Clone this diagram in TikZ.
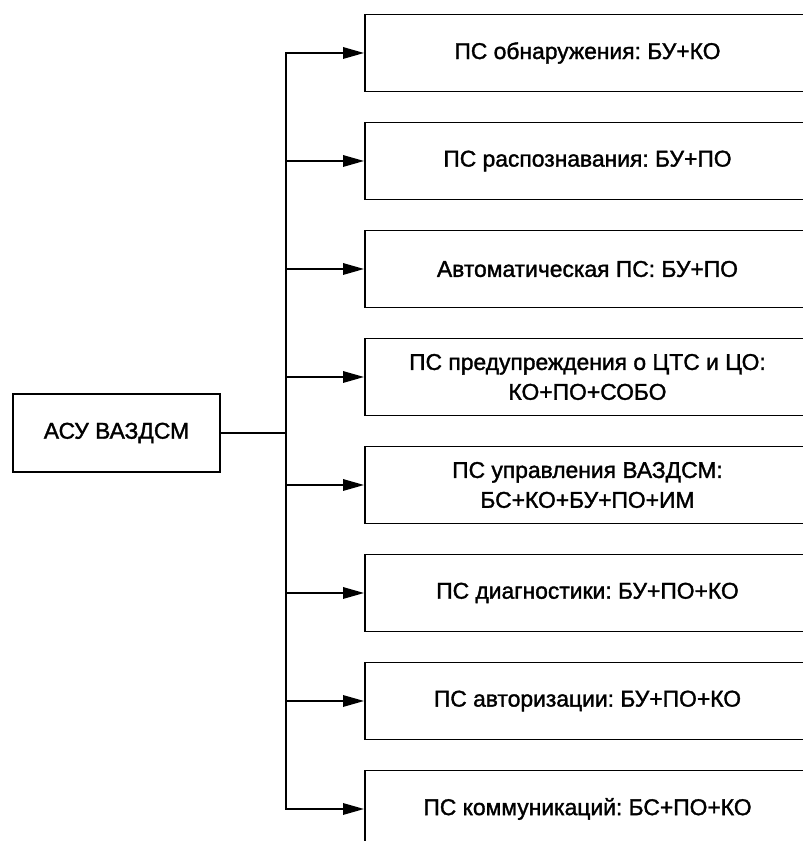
\documentclass[tikz,border=0pt]{standalone}
\usepackage{fontspec}
\setmainfont[FakeBold=1.5]{Liberation Sans}
\usepackage{tikz}
\usetikzlibrary{arrows.meta,positioning,calc}
\frenchspacing

\tikzset{
  unitbox/.style={draw, line width=1.1pt, minimum width=4.14cm, minimum height=1.56cm,
    font=\fontsize{13}{17}\selectfont},
  subbox/.style={draw, line width=1.1pt, minimum width=8.9cm, minimum height=1.54cm,
    anchor=west, align=center, inner sep=0pt, font=\fontsize{13}{17}\selectfont},
  feed/.style={line width=1pt, -{Triangle[length=4.2mm, width=2.3mm]}}
}

\begin{document}
\begin{tikzpicture}
    \useasboundingbox (0,0) rectangle (16.04,16.82);

    % Main system
    \node[unitbox] (asu) at (2.33,8.16) {АСУ ВАЗДСМ};
    \coordinate (bus) at (5.72,8.16);

    % Subsystems
    \node[subbox] (b1) at (7.28,15.76) {ПС обнаружения: БУ+КО};
    \node[subbox] (b2) at (7.28,13.60) {ПС распознавания: БУ+ПО};
    \node[subbox] (b3) at (7.28,11.44) {Автоматическая ПС: БУ+ПО};
    \node[subbox] (b4) at (7.28,9.28) {ПС предупреждения о ЦТС и ЦО:\\КО+ПО+СОБО};
    \node[subbox] (b5) at (7.28,7.12) {ПС управления ВАЗДСМ:\\БС+КО+БУ+ПО+ИМ};
    \node[subbox] (b6) at (7.28,4.96) {ПС диагностики: БУ+ПО+КО};
    \node[subbox] (b7) at (7.28,2.80) {ПС авторизации: БУ+ПО+КО};
    \node[subbox] (b8) at (7.28,0.64) {ПС коммуникаций: БС+ПО+КО};

    % Connections
    \draw[line width=1pt] (asu.east) -- (bus);
    \draw[feed] (bus) |- (b1.west);
    \draw[feed] (bus) |- (b2.west);
    \draw[feed] (bus) |- (b3.west);
    \draw[feed] (bus) |- (b4.west);
    \draw[feed] (bus) |- (b5.west);
    \draw[feed] (bus) |- (b6.west);
    \draw[feed] (bus) |- (b7.west);
    \draw[feed] (bus) |- (b8.west);
\end{tikzpicture}
\end{document}
